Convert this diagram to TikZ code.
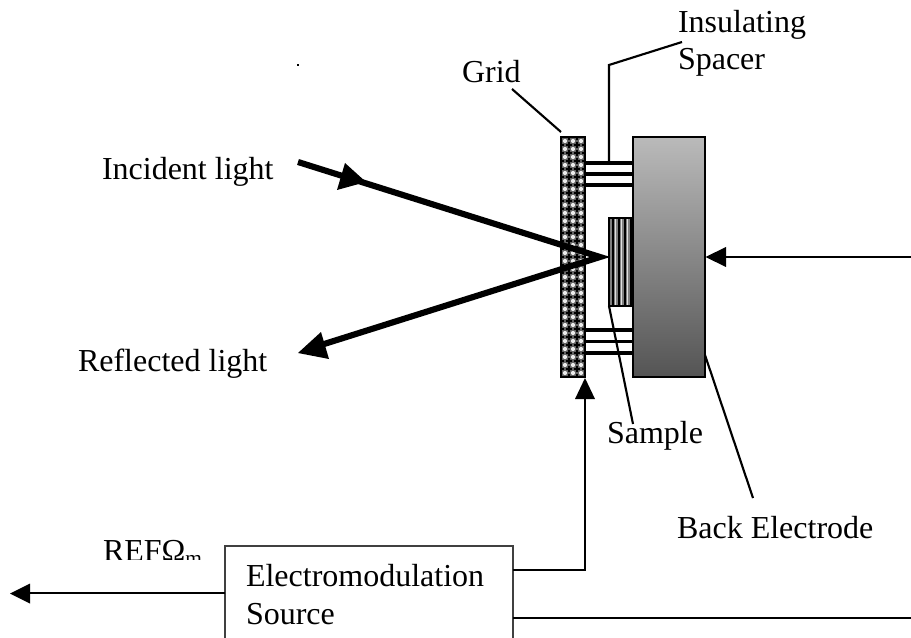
\documentclass[tikz,border=0pt]{standalone}
\usepackage{fontspec}
\setmainfont{Liberation Serif}
\usetikzlibrary{calc}
\tikzset{
  x=0.75pt,y=-0.75pt,
  lbl/.style={anchor=base west,inner sep=0pt,outer sep=0pt,font=\fontsize{24}{28}\selectfont,text=black},
  leader/.style={draw=black,line width=1.6pt},
  wire/.style={draw=black,line width=2.2pt},
  ray/.style={draw=black,line width=4.6pt,line cap=butt,line join=miter,miter limit=20},
  spacer/.style={draw=black,line width=2.3pt},
  thickspacer/.style={draw=black,line width=3.2pt},
  head/.style={fill=black,draw=none},
  outline/.style={draw=black,line width=2.2pt}
}
\begin{document}
\begin{tikzpicture}
\useasboundingbox (0,0) rectangle (911,638);
\clip (0,0) rectangle (911,638);
\fill[white] (0,0) rectangle (911,638);

% labels
\node[lbl] (tins) at (678,33) {Insulating};
\node[lbl] (tspa) at (678,70) {Spacer};
\node[lbl] (tgrid) at (462,83) {Grid};
\node[lbl] (tinc) at (102,180) {Incident light};
\node[lbl] (tref) at (78,371) {Reflected light};
\node[lbl] (tsam) at (607,443) {Sample};
\node[lbl] (tback) at (677,538) {Back Electrode};
\begin{scope}
  \clip (90,530) rectangle (225,559);
  \node[lbl] (trefo) at (103,561.5) {REFΩ\raisebox{-3pt}{\fontsize{16}{18}\selectfont m}};
\end{scope}
\fill (296.5,64) rectangle (298.5,66);

% spacers
\coordinate (sa) at (585,163); \coordinate (sb) at (633,163);
\draw[thickspacer] (sa) -- (sb);
\draw[spacer] (585,174) -- (633,174);
\draw[thickspacer] (585,185) -- (633,185);
\draw[spacer] (585,330) -- (633,330);
\draw[spacer] (585,341.5) -- (633,341.5);
\draw[spacer] (585,353) -- (633,353);

% grid
\coordinate (gridnw) at (561,137);
\coordinate (gridse) at (585,377);
\begin{scope}
  \clip (gridnw) rectangle (gridse);
  \fill[black!62] (gridnw) rectangle (gridse);
  \foreach \i in {0,...,3} \foreach \j in {0,...,30} {
    \fill[black!8] ({561+\i*8+4},{137+\j*8+4}) circle (2.1);
    \fill[black] ({561+\i*8-1},{137+\j*8-3.4}) rectangle ++(2,6.8);
    \fill[black] ({561+\i*8-3.4},{137+\j*8-1}) rectangle ++(6.8,2);
  }
\end{scope}
\draw[outline] (gridnw) rectangle (gridse);

% back electrode
\shade[top color=black!27,bottom color=black!67] (633,137) rectangle (705,377);
\draw[outline] (633,137) rectangle (705,377);
\coordinate (backl) at (705,355);

% sample
\fill[black!50] (609,218) rectangle (633,306);
\foreach \i in {0,...,3} {
  \fill[black] ({611.5+\i*6},218) rectangle ++(2,88);
  \fill[black!12] ({614.5+\i*6},218) rectangle ++(1.6,88);
}
\draw[outline] (609,218) rectangle (633,306);
\coordinate (saml) at (609,306);

% leader lines
\coordinate (insa) at (682,42);
\coordinate (insb) at (609,65);
\coordinate (insc) at (609,163);
\draw[leader] (insa) -- (insb) -- (insc);
\coordinate (gla) at (512,89);
\coordinate (glb) at (561,132);
\draw[leader] (gla) -- (glb);
\coordinate (sla) at (633,424);
\draw[leader] (saml) -- (sla);
\coordinate (bla) at (753,498);
\draw[leader] (backl) -- (bla);

% rays
\coordinate (r0) at (298,162);
\coordinate (r1) at (600,257);
\coordinate (r2) at (321,345);
\draw[ray] (r0) -- (r1) -- (r2);
\fill[head] (345,163) -- (366,182) -- (337,190) -- cycle;
\fill[head] (298,353) -- (321,332) -- (329,359) -- cycle;

% source box
\node[draw=black!75,line width=2.2pt,fill=white,inner sep=0pt,outer sep=0pt,anchor=north west,minimum width=216pt,minimum height=90pt] (src) at (225,546) {};
\node[lbl] (tel) at (246,586) {Electromodulation};
\node[lbl] (tso) at (246,624) {Source};

% wires
\coordinate (rw) at (911,257);
\coordinate (rt) at (726,257);
\draw[wire] (rw) -- (rt);
\fill[head] (705.5,257) -- (726,247) -- (726,267) -- cycle;

\coordinate (s1) at (513,570);
\coordinate (s2) at (585,570);
\coordinate (s3) at (585,398);
\draw[wire] (s1) -- (s2) -- (s3);
\fill[head] (585,378) -- (595,399) -- (575,399) -- cycle;

\coordinate (s4) at (513,618);
\coordinate (s5) at (911,618);
\draw[wire] (s4) -- (s5);

\coordinate (s6) at (225,593);
\coordinate (s7) at (30,593);
\draw[wire] (s6) -- (s7);
\fill[head] (10,593.5) -- (30,583.5) -- (30,603.5) -- cycle;
\end{tikzpicture}
\end{document}
